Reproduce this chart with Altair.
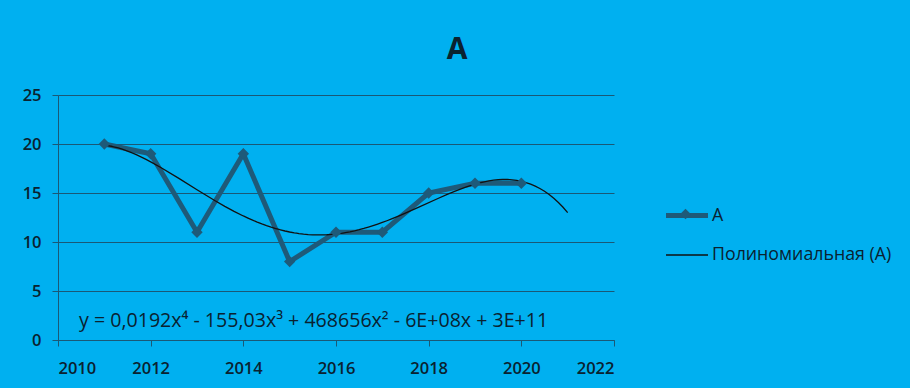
import altair as alt
import pandas as pd

years = [2011, 2012, 2013, 2014, 2015, 2016, 2017, 2018, 2019, 2020]
values = [20, 19, 11, 19, 8, 11, 11, 15, 16, 16]
series_name = "А"
trend_name = "Полиномиальная (А)"
equation = "y = 0,0192x⁴ - 155,03x³ + 468656x² - 6E+08x + 3E+11"
x_ticks = [2010, 2012, 2014, 2016, 2018, 2020, 2022]
y_ticks = [0, 5, 10, 15, 20, 25]

BG = "#00B0F0"
LINE = "#1E5A79"
GRID = "#1A5876"
TEXT = "#0A2230"
FONT = "Open Sans"

df = pd.DataFrame({"year": years, "value": values, "series": [series_name] * len(years)})

x_enc = alt.X("year:Q", scale=alt.Scale(domain=[2010, 2022], nice=False, zero=False),
              axis=alt.Axis(values=x_ticks, format="d", title=None, grid=False,
                            domainColor=GRID, tickColor=GRID, tickSize=6,
                            labelColor=TEXT, labelFontSize=16.5, labelFont=FONT,
                            labelFontWeight=600, labelPadding=14))
y_enc = alt.Y("value:Q", scale=alt.Scale(domain=[0, 25], nice=False),
              axis=alt.Axis(values=y_ticks, title=None, grid=True, gridColor=GRID, gridWidth=1.2,
                            domainColor=GRID, tickColor=GRID, tickSize=6,
                            labelColor=TEXT, labelFontSize=16.5, labelFont=FONT,
                            labelFontWeight=600, labelPadding=11))

color_scale = alt.Scale(domain=[series_name, trend_name], range=[LINE, "#111111"])
sw_scale = alt.Scale(domain=[series_name, trend_name], range=[5, 1.3])

color_legend = alt.Legend(orient="none", legendX=616, legendY=107.5, title=None,
                          symbolType="M-2,0H2", symbolSize=441, labelOffset=12,
                          rowPadding=18, padding=0, labelFontSize=17.8, labelFont=FONT,
                          labelLimit=400, labelColor=TEXT,
                          symbolFillColor="transparent")

base = alt.Chart(df)

data_line = base.mark_line().encode(
    x=x_enc, y=y_enc,
    color=alt.Color("series:N", scale=color_scale, legend=color_legend),
    strokeWidth=alt.StrokeWidth("series:N", scale=sw_scale, legend=None),
)

points = base.mark_point(filled=True, opacity=1).encode(
    x="year:Q", y="value:Q",
    color=alt.value(LINE),
    shape=alt.Shape("series:N", scale=alt.Scale(domain=[series_name], range=["diamond"]),
                    legend=alt.Legend(orient="none", legendX=621.5, legendY=113, title=None,
                                      padding=0, labelExpr="''", symbolSize=110,
                                      symbolFillColor=LINE, symbolStrokeColor=LINE)),
    size=alt.value(130),
)

trend = base.transform_regression(
    "year", "value", method="poly", order=4, extent=[2011, 2021]
).transform_calculate(series=f"'{trend_name}'").mark_line().encode(
    x="year:Q", y="value:Q",
    color=alt.Color("series:N", scale=color_scale, legend=color_legend),
    strokeWidth=alt.StrokeWidth("series:N", scale=sw_scale, legend=None),
)

eq_text = alt.Chart(pd.DataFrame({"t": [equation]})).mark_text(
    align="left", baseline="middle", fontSize=19.6, font=FONT, color=TEXT
).encode(text="t:N", x=alt.value(21), y=alt.value(226))

chart = alt.layer(data_line, trend, points, eq_text).properties(
    width=556, height=245,
    title=alt.TitleParams("А", fontSize=30, fontWeight="bold", font=FONT, color=TEXT,
                          anchor="middle", dx=121, offset=22),
    background=BG,
    padding={"left": 58, "top": 95, "right": 296, "bottom": 48},
    autosize=alt.AutoSizeParams(type="none"),
).configure_view(stroke=None)

chart.save("out.html", embed_options={"renderer": "svg", "actions": False})
